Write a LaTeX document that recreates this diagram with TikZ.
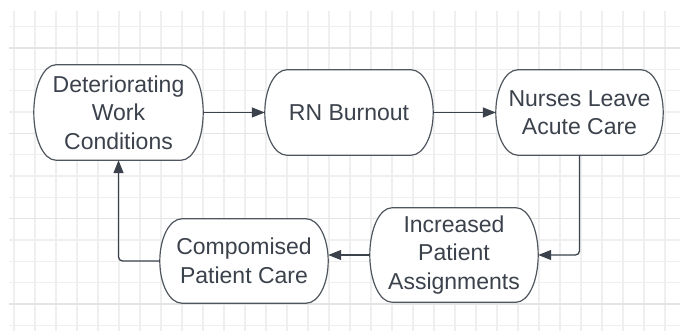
\documentclass[tikz,border=0pt]{standalone}
\usepackage{fontspec}
\setmainfont{Liberation Sans}
\usetikzlibrary{arrows.meta,calc}
\definecolor{ink}{HTML}{3B424C}
\definecolor{edge}{HTML}{50565E}
\definecolor{gridc}{HTML}{EFEFEF}
\definecolor{gridmaj}{HTML}{E4E4E4}
\pgfdeclarelayer{grid}
\pgfdeclarelayer{shapes}
\pgfsetlayers{grid,shapes,main}
\begin{document}
\begin{tikzpicture}[x=1pt, y=1pt,
    box/.style={inner sep=0pt, align=center, text=ink, font=\fontsize{23}{28.5}\selectfont},
    outline/.style={draw=edge, fill=white, line width=1.2pt},
    link/.style={draw=ink, line width=1.3pt, rounded corners=4pt, -{Triangle[length=13pt,width=10pt]}},
    minor/.style={draw=gridc, line width=1.2pt},
    major/.style={draw=gridmaj, line width=1.6pt}]
    \useasboundingbox (0,0) rectangle (680,-331);
    % background grid
    \begin{pgfonlayer}{grid}
        \fill[white] (0,0) rectangle (680,-331);
        \foreach \i in {0,...,31}
            \draw[minor] ({14+21*\i},-11) -- ({14+21*\i},-331);
        \foreach \j in {-1,...,13}
            \draw[minor] (9,{-48-21.333*\j}) -- (680,{-48-21.333*\j});
        \foreach \j in {0,4,8,12}
            \draw[major] (9,{-48-21.333*\j}) -- (680,{-48-21.333*\j});
    \end{pgfonlayer}
    \node[box, minimum width=169pt, minimum height=95pt] (wc) at (118.5,-112.5) {Deteriorating\\Work\\Conditions};
    \node[box, minimum width=168pt, minimum height=85pt] (rn) at (349,-112.5) {RN Burnout};
    \node[box, minimum width=167pt, minimum height=85pt] (nl) at (579.5,-112.5) {Nurses Leave\\Acute Care};
    \node[box, minimum width=168pt, minimum height=94pt] (pa) at (454,-255) {Increased\\Patient\\Assignments};
    \node[box, minimum width=168pt, minimum height=84pt] (pc) at (244,-261) {Compomised\\Patient Care};
    % capsule outlines round each node
    \begin{pgfonlayer}{shapes}
        \foreach \b in {wc,rn,nl,pa,pc}
            \draw[outline] let \p1=(\b.north west), \p2=(\b.south east), \n1={(\y1-\y2)/2} in
                (\x1+22pt,\y1) -- (\x2-22pt,\y1)
                arc[start angle=90, end angle=-90, x radius=22pt, y radius=\n1]
                -- (\x1+22pt,\y2)
                arc[start angle=270, end angle=90, x radius=22pt, y radius=\n1] -- cycle;
    \end{pgfonlayer}
    \draw[link] (wc) -- (rn);
    \draw[link] (rn) -- (nl);
    \draw[link] (nl.south) |- (pa.east);
    \draw[link] (pa.west) -- (pa.west -| pc.east);
    \draw[link] (pc.west) -| (wc.south);
\end{tikzpicture}
\end{document}
